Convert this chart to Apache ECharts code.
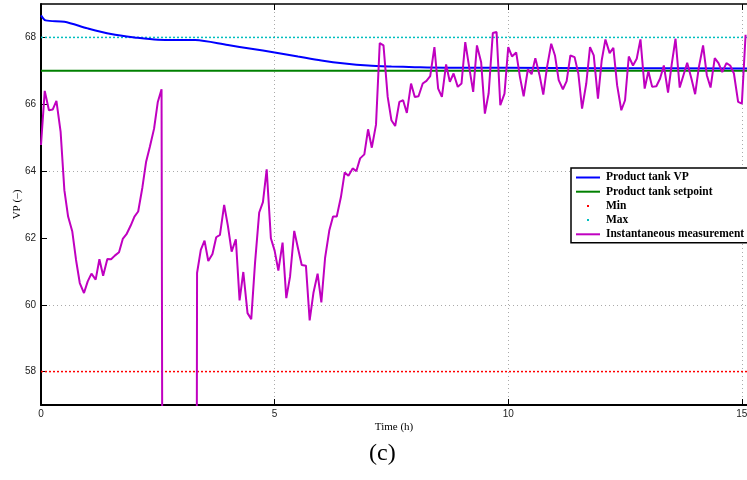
<!DOCTYPE html>
<html lang="en">
<head>
    <meta charset="UTF-8">
    <title>VP</title>
    <script src="https://cdn.jsdelivr.net/npm/echarts/dist/echarts.min.js"></script>
    <style>
        body, html {
            margin: 0;
            padding: 0;
            background: #fff;
        }
        #chart {
            width: 747px;
            height: 480px;
        }
    </style>
</head>
<body>
<div id="chart"></div>
<script>
    // axis ticks
    const xTicks = [0, 5, 10, 15];
    const yTicks = [58, 60, 62, 64, 66, 68];

    // product tank VP (smooth trend)
    const vpTime = [0, 0.1, 0.5, 1.0, 1.5, 2.0, 2.5, 3.3, 4.0, 4.5, 5.0, 5.5, 6.0, 6.5, 7.0, 7.5, 8.0, 9.0, 10.0, 12.0, 15.11];
    const vpValue = [68.66, 68.51, 68.47, 68.27, 68.1, 68.0, 67.93, 67.92, 67.77, 67.66, 67.55, 67.43, 67.31, 67.22, 67.16, 67.13, 67.11, 67.09, 67.09, 67.08, 67.07];

    const setpoint = 67;
    const minLimit = 58;
    const maxLimit = 68;

    // instantaneous measurement (values under 57 are off the plot)
    const measTime = [
        0.00, 0.08, 0.17, 0.25, 0.33, 0.42, 0.50, 0.58, 0.67, 0.75, 0.83, 0.92,
        1.00, 1.08, 1.17, 1.25, 1.33, 1.42, 1.50, 1.58, 1.67, 1.75, 1.83, 1.92,
        2.00, 2.08, 2.17, 2.25, 2.33, 2.42, 2.50, 2.58, 2.60, 3.33,
        3.34, 3.42, 3.50, 3.58, 3.67, 3.75, 3.83, 3.92,
        4.00, 4.08, 4.17, 4.25, 4.33, 4.42, 4.50, 4.58, 4.67, 4.75, 4.83, 4.92,
        5.00, 5.08, 5.17, 5.25, 5.33, 5.42, 5.50, 5.58, 5.67, 5.75, 5.83, 5.92,
        6.00, 6.08, 6.17, 6.25, 6.33, 6.42, 6.50, 6.58, 6.67, 6.75, 6.83, 6.92,
        7.00, 7.08, 7.17, 7.25, 7.33, 7.42, 7.50, 7.58, 7.67, 7.75, 7.83, 7.92,
        8.00, 8.08, 8.17, 8.25, 8.33, 8.42, 8.50, 8.58, 8.67, 8.75, 8.83, 8.92,
        9.00, 9.08, 9.17, 9.25, 9.33, 9.42, 9.50, 9.58, 9.67, 9.75, 9.83, 9.92,
        10.00, 10.08, 10.17, 10.25, 10.33, 10.42, 10.50, 10.58, 10.67, 10.75, 10.83, 10.92,
        11.00, 11.08, 11.17, 11.25, 11.33, 11.42, 11.50, 11.58, 11.67, 11.75, 11.83, 11.92,
        12.00, 12.08, 12.17, 12.25, 12.33, 12.42, 12.50, 12.58, 12.67, 12.75, 12.83, 12.92,
        13.00, 13.08, 13.17, 13.25, 13.33, 13.42, 13.50, 13.58, 13.67, 13.75, 13.83, 13.92,
        14.00, 14.08, 14.17, 14.25, 14.33, 14.42, 14.50, 14.58, 14.67, 14.75, 14.83, 14.92,
        15.00, 15.08
    ];
    const measValue = [
        64.78, 66.40, 65.82, 65.84, 66.10, 65.17, 63.43, 62.64, 62.19, 61.34, 60.65, 60.35,
        60.70, 60.93, 60.75, 61.36, 60.87, 61.37, 61.36, 61.47, 61.57, 61.97, 62.11, 62.37,
        62.64, 62.79, 63.51, 64.28, 64.73, 65.27, 66.07, 66.45, 52.00, 52.00,
        60.95, 61.64, 61.92, 61.31, 61.52, 62.02, 62.09, 62.99,
        62.36, 61.59, 61.96, 60.13, 60.98, 59.75, 59.57, 61.24, 62.76, 63.07, 64.05, 61.99,
        61.62, 61.02, 61.86, 60.20, 60.84, 62.21, 61.69, 61.19, 61.17, 59.53, 60.35, 60.93,
        60.07, 61.40, 62.22, 62.64, 62.64, 63.23, 63.96, 63.86, 64.08, 64.00, 64.38, 64.50,
        65.25, 64.70, 65.39, 67.83, 67.76, 66.22, 65.52, 65.35, 66.07, 66.12, 65.74, 66.62,
        66.22, 66.24, 66.62, 66.70, 66.84, 67.71, 66.47, 66.22, 67.19, 66.67, 66.92, 66.52,
        66.62, 67.86, 67.06, 66.37, 67.76, 67.26, 65.72, 66.32, 68.13, 68.16, 65.97, 66.32,
        67.71, 67.43, 67.55, 66.82, 66.24, 67.04, 66.90, 67.38, 66.87, 66.29, 67.11, 67.81,
        67.46, 66.72, 66.45, 66.69, 67.46, 67.41, 66.92, 65.87, 66.62, 67.71, 67.46, 66.17,
        67.31, 67.94, 67.53, 67.69, 66.57, 65.82, 66.12, 67.43, 67.16, 67.36, 67.94, 66.47,
        66.99, 66.52, 66.54, 66.77, 67.16, 66.35, 67.21, 67.96, 66.50, 66.87, 67.24, 66.77,
        66.30, 67.11, 67.76, 66.87, 66.50, 67.38, 67.23, 66.96, 67.23, 67.16, 66.92, 66.07,
        66.02, 68.08
    ];

    const xMin = 0, xMax = 15.11, yMin = 57, yMax = 69;

    const pairs = (xs, ys) => xs.map((x, i) => [x, ys[i]]);
    const flat = v => [[xMin, v], [xMax, v]];

    const serif = '"Liberation Serif", "Times New Roman", serif';
    const sans = '"Liberation Sans", Arial, sans-serif';

    const lineIcon = 'path://M0,0M24,0M24,10M0,10M0,4h24v2h-24z';
    const dotIcon = 'path://M0,0M24,0M24,10M0,10M11,4h2v2h-2z';

    const chart = echarts.init(document.getElementById('chart'));
    const option = {
        animation: false,
        grid: {left: 41, right: 0, top: 4, bottom: 75, outerBoundsMode: 'none', containLabel: false},
        legend: {
            orient: 'vertical',
            left: 571,
            top: 168,
            padding: [3, 12, 2, 5],
            itemWidth: 24,
            itemHeight: 10,
            itemGap: 1.2,
            backgroundColor: '#fff',
            borderColor: '#000',
            borderWidth: 1.5,
            borderRadius: 0,
            textStyle: {fontFamily: serif, fontWeight: 'bold', fontSize: 11.5, lineHeight: 13, color: '#000', padding: [0, 0, 0, 1]},
            data: [
                {name: 'Product tank VP', icon: lineIcon},
                {name: 'Product tank setpoint', icon: lineIcon},
                {name: 'Min', icon: dotIcon},
                {name: 'Max', icon: dotIcon},
                {name: 'Instantaneous measurement', icon: lineIcon}
            ]
        },
        xAxis: [{
            type: 'value',
            min: xMin,
            max: xMax,
            interval: 5,
            name: 'Time (h)',
            nameLocation: 'middle',
            nameGap: 17,
            nameMoveOverlap: false,
            nameTextStyle: {fontFamily: serif, fontSize: 11, color: '#000'},
            axisLine: {lineStyle: {color: '#000', width: 2}},
            axisTick: {inside: true, length: 6, customValues: xTicks, lineStyle: {color: '#000'}},
            axisLabel: {customValues: xTicks, fontFamily: sans, fontSize: 10, color: '#222', margin: 4},
            splitLine: {show: true, lineStyle: {color: '#aaa', type: [1, 3], width: 1}}
        }, {
            type: 'value',
            position: 'top',
            min: xMin,
            max: xMax,
            interval: 5,
            axisLine: {onZero: false, lineStyle: {color: '#000', width: 1.5}},
            axisTick: {inside: true, length: 6, customValues: xTicks, lineStyle: {color: '#000'}},
            axisLabel: {show: false},
            splitLine: {show: false}
        }],
        yAxis: {
            type: 'value',
            min: yMin,
            max: yMax,
            interval: 1,
            name: 'VP (–)',
            nameLocation: 'middle',
            nameRotate: 90,
            nameGap: 18,
            nameMoveOverlap: false,
            nameTextStyle: {fontFamily: serif, fontSize: 11, color: '#000'},
            axisLine: {show: true, onZero: false, lineStyle: {color: '#000', width: 2}},
            axisTick: {inside: true, length: 6, customValues: yTicks, lineStyle: {color: '#000'}},
            axisLabel: {customValues: yTicks, fontFamily: sans, fontSize: 10, color: '#222', margin: 5},
            splitLine: {show: true, lineStyle: {color: ['rgba(0,0,0,0)', '#aaa'], type: [1, 3], width: 1}}
        },
        graphic: [{
            type: 'text',
            left: 369,
            top: 442,
            style: {text: '(c)', font: '24px ' + serif, fill: '#000'}
        }],
        series: [
            {
                name: 'Min',
                type: 'line',
                data: flat(minLimit),
                showSymbol: false,
                itemStyle: {color: '#ff0000'},
                lineStyle: {color: '#ff0000', width: 1.5, type: [2, 2]}
            },
            {
                name: 'Max',
                type: 'line',
                data: flat(maxLimit),
                showSymbol: false,
                itemStyle: {color: '#00bfbf'},
                lineStyle: {color: '#00bfbf', width: 1.5, type: [2, 2]}
            },
            {
                name: 'Product tank setpoint',
                type: 'line',
                data: flat(setpoint),
                showSymbol: false,
                itemStyle: {color: '#008000'},
                lineStyle: {color: '#008000', width: 2}
            },
            {
                name: 'Product tank VP',
                type: 'line',
                data: pairs(vpTime, vpValue),
                smooth: 0.3,
                showSymbol: false,
                itemStyle: {color: '#0000ff'},
                lineStyle: {color: '#0000ff', width: 2}
            },
            {
                name: 'Instantaneous measurement',
                type: 'line',
                data: pairs(measTime, measValue),
                showSymbol: false,
                clip: true,
                itemStyle: {color: '#c000c0'},
                lineStyle: {color: '#c000c0', width: 2}
            }
        ]
    };
    chart.setOption(option);
</script>
</body>
</html>
